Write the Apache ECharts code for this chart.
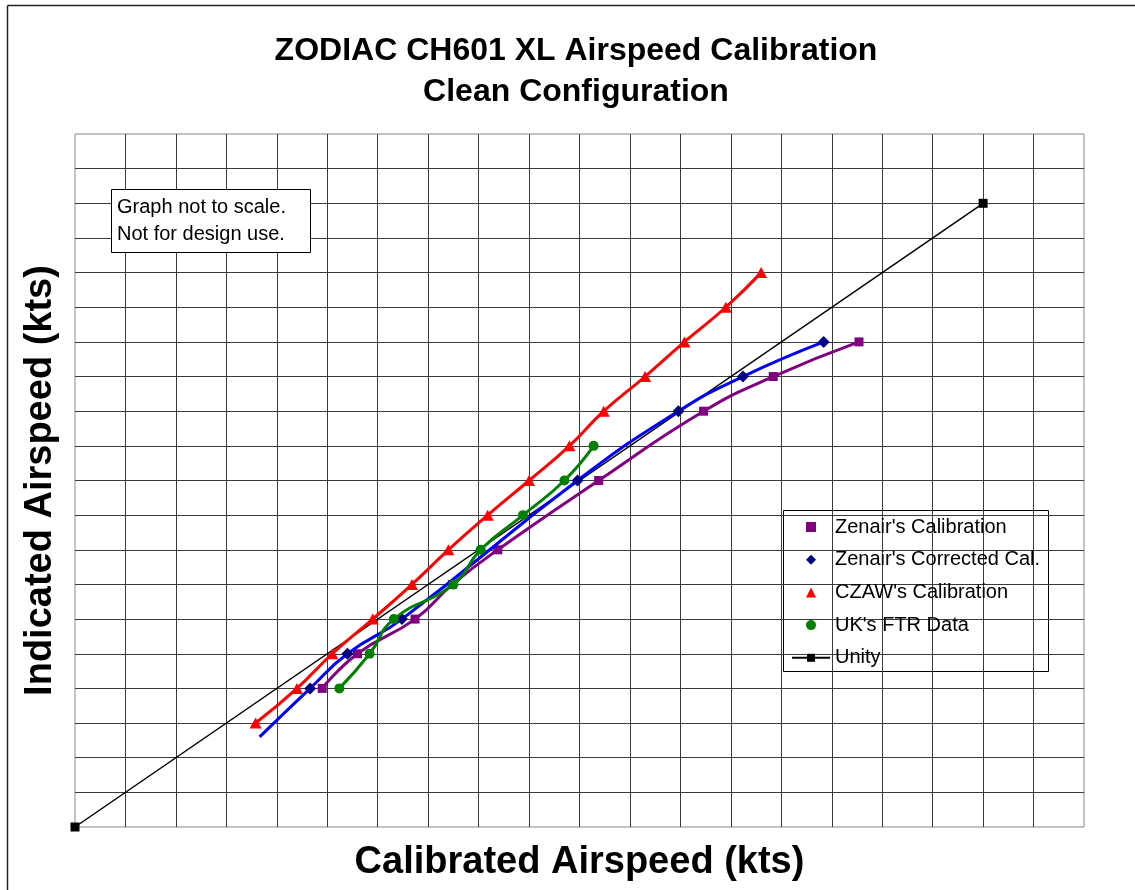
<!DOCTYPE html>
<html>
<head>
<meta charset="utf-8">
<script src="https://cdn.jsdelivr.net/npm/echarts@6/dist/echarts.min.js"></script>
<style>html,body{margin:0;padding:0;background:#fff;}#c{width:1135px;height:890px;}</style>
</head>
<body>
<div id="c"></div>
<script>
// Values (kts, 5 kts per grid square, arbitrary origin: "not to scale")
const zenairCalX = [24.5, 28.0, 33.7, 37.4, 41.9, 51.9, 62.3, 69.2, 77.7];
const zenairCalY = [20, 25, 30, 35, 40, 50, 60, 65, 70];

const zenairCorrX = [18.3, 23.3, 27.0, 32.4, 49.8, 59.8, 66.2, 74.2];
const zenairCorrY = [13, 20, 25, 30, 50, 60, 65, 70];

const czawX = [17.9, 22.0, 25.5, 29.5, 33.4, 37.0, 40.9, 45.0, 49.0, 52.4, 56.5, 60.4, 64.5, 68.0];
const czawY = [15, 20, 25, 30, 35, 40, 45, 50, 55, 60, 65, 70, 75, 80];

const ukX = [26.2, 29.2, 31.6, 37.5, 40.2, 44.4, 48.5, 51.4];
const ukY = [20, 25, 30, 35, 40, 45, 50, 55];

const unityX = [0, 90];
const unityY = [0, 90];

const seriesNames = ["Zenair's Calibration", "Zenair's Corrected Cal.", "CZAW's Calibration", "UK's FTR Data", "Unity"];

function pairs(xs, ys) { return xs.map((x, i) => [x, ys[i]]); }

const FONT = "'Liberation Sans', Arial, Helvetica, sans-serif";
const chart = echarts.init(document.getElementById('c'), null, {renderer: 'canvas'});

const corrData = pairs(zenairCorrX, zenairCorrY).map((p, i) => i === 0 ? {value: p, symbol: 'none'} : p);
const SMOOTH = 0.5;

chart.setOption({
  animation: false,
  backgroundColor: '#fff',
  title: {
    text: 'ZODIAC CH601 XL Airspeed Calibration\nClean Configuration',
    left: 576,
    top: 31,
    textAlign: 'center',
    padding: 0,
    textStyle: {fontFamily: FONT, fontSize: 32, fontWeight: 'bold', color: '#000', lineHeight: 41}
  },
  grid: {left: 75, top: 134, right: 51, bottom: 63, show: true, borderColor: '#888', borderWidth: 1, backgroundColor: 'transparent'},
  xAxis: {
    type: 'value', min: 0, max: 100, interval: 5,
    name: 'Calibrated Airspeed (kts)', nameLocation: 'middle', nameGap: 17,
    nameTextStyle: {fontFamily: FONT, fontSize: 38, fontWeight: 'bold', color: '#000', lineHeight: 38},
    axisLine: {show: false}, axisTick: {show: false}, axisLabel: {show: false},
    splitLine: {show: true, showMinLine: false, showMaxLine: false, lineStyle: {color: '#3a3a3a', width: 1}}
  },
  yAxis: {
    type: 'value', min: 0, max: 100, interval: 5,
    name: 'Indicated Airspeed (kts)', nameLocation: 'middle', nameGap: 15,
    nameTextStyle: {fontFamily: FONT, fontSize: 38, fontWeight: 'bold', color: '#000', lineHeight: 38},
    axisLine: {show: false}, axisTick: {show: false}, axisLabel: {show: false},
    splitLine: {show: true, showMinLine: false, showMaxLine: false, lineStyle: {color: '#3a3a3a', width: 1}}
  },
  legend: {
    orient: 'vertical', left: 791, top: 517, padding: 0,
    itemWidth: 38, itemHeight: 10, itemGap: 12.7,
    textStyle: {fontFamily: FONT, fontSize: 20, color: '#000', lineHeight: 20},
    data: [
      {name: seriesNames[0], icon: 'path://M0,0H10V10H0Z'},
      {name: seriesNames[1], icon: 'path://M5,0L10,5L5,10L0,5Z'},
      {name: seriesNames[2], icon: 'path://M5,0L10,10H0Z'},
      {name: seriesNames[3], icon: 'path://M5,0A5,5,0,1,1,4.99,0Z'},
      {name: seriesNames[4]}
    ]
  },
  series: [
    {
      name: seriesNames[4], type: 'line', z: 2, data: pairs(unityX, unityY),
      symbol: 'rect', symbolSize: 9, color: '#000',
      lineStyle: {color: '#000', width: 1.5}, itemStyle: {color: '#000'}
    },
    {
      name: seriesNames[0], type: 'line', z: 3, smooth: SMOOTH, data: pairs(zenairCalX, zenairCalY),
      symbol: 'rect', symbolSize: 9, color: '#800080',
      lineStyle: {color: '#800080', width: 3}, itemStyle: {color: '#800080'}
    },
    {
      name: seriesNames[1], type: 'line', z: 4, smooth: SMOOTH, data: corrData,
      symbol: 'diamond', symbolSize: 12, color: '#000080',
      lineStyle: {color: '#0000ff', width: 3}, itemStyle: {color: '#000080'}
    },
    {
      name: seriesNames[3], type: 'line', z: 5, smooth: SMOOTH, data: pairs(ukX, ukY),
      symbol: 'circle', symbolSize: 10, color: '#008000',
      lineStyle: {color: '#008000', width: 3}, itemStyle: {color: '#008000'}
    },
    {
      name: seriesNames[2], type: 'line', z: 6, smooth: SMOOTH, data: pairs(czawX, czawY),
      symbol: 'triangle', symbolSize: [12, 11], color: '#ff0000',
      lineStyle: {color: '#ff0000', width: 3}, itemStyle: {color: '#ff0000'}
    }
  ],
  graphic: [
    {type: 'line', z: 100, shape: {x1: 7.5, y1: 5.5, x2: 1135, y2: 5.5}, style: {stroke: '#222', lineWidth: 1.5}},
    {type: 'line', z: 100, shape: {x1: 7.5, y1: 5.5, x2: 7.5, y2: 890}, style: {stroke: '#222', lineWidth: 1.5}},
    {type: 'rect', z: 50, shape: {x: 111.5, y: 189.5, width: 199, height: 63}, style: {fill: '#fff', stroke: '#000', lineWidth: 1}},
    {type: 'text', z: 51, left: 117, top: 194, style: {text: 'Graph not to scale.\nNot for design use.', font: "20px 'Liberation Sans', Arial, sans-serif", fill: '#000', lineHeight: 27}},
    {type: 'rect', z: 0, shape: {x: 783.5, y: 510.5, width: 265, height: 161}, style: {fill: '#fff', stroke: '#000', lineWidth: 1}}
  ]
});
</script>
</body>
</html>
